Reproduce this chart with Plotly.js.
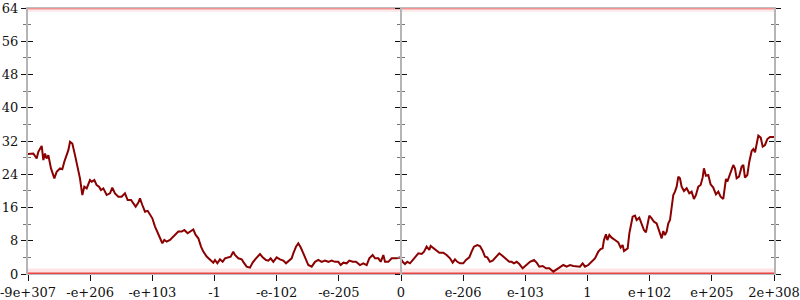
<!DOCTYPE html>
<html>
<head>
<meta charset="utf-8">
<script src="https://cdn.plot.ly/plotly-3.0.1.min.js"></script>
<style>html,body{margin:0;padding:0;background:#fff;}#chart{width:800px;height:300px;}</style>
</head>
<body>
<div id="chart"></div>
<script>
// Tick labels (positions are evenly spaced on a symmetric-log style axis)
const tickPositions = [0,1,2,3,4,5,6,7,8,9,10,11,12];
const tickLabels = ["-9e+307","-e+206","-e+103","-1","-e-102","-e-205","0","e-206","e-103","1","e+102","e+205","2e+308"];

// Main series: x in axis-index units, y values
const seriesX = [
0,0.086,0.139,0.166,0.22,0.247,0.273,0.30,0.327,0.37,0.424,0.461,0.515,0.552,0.584,0.622,0.649,0.676,0.713,0.756,
0.783,0.81,0.836,0.874,0.906,0.944,0.997,1.024,1.067,1.104,1.142,1.174,1.212,1.265,1.319,1.356,1.399,1.453,1.506,1.56,
1.603,1.657,1.694,1.732,1.775,1.801,1.839,1.882,1.925,1.962,2.0,2.043,2.086,2.123,2.161,2.193,2.231,2.284,2.338,2.375,
2.418,2.472,2.515,2.568,2.606,2.659,2.697,2.74,2.783,2.82,2.874,2.927,2.981,
3.008,3.046,3.088,3.131,3.169,3.222,3.26,3.302,3.329,3.383,3.437,3.463,3.517,3.571,3.614,3.668,3.732,3.775,3.828,3.866,
3.903,3.946,4.0,4.053,4.107,4.15,4.203,4.241,4.268,4.311,4.348,4.386,4.429,4.471,4.509,4.563,4.617,4.67,4.724,4.777,
4.831,4.885,4.938,4.992,5.03,5.072,5.126,5.169,5.223,5.276,5.34,5.394,5.448,5.49,5.544,5.582,5.636,5.673,5.716,5.743,
5.796,5.85,5.93,5.984,
6.027,6.064,6.101,6.145,6.198,6.252,6.279,6.333,6.37,6.413,6.455,6.477,6.52,6.563,6.617,6.68,6.734,6.788,6.831,6.868,
6.906,6.948,7.002,7.045,7.099,7.136,7.174,7.227,7.27,7.313,7.351,7.388,7.431,7.474,7.528,7.581,7.635,7.689,7.742,7.78,
7.817,7.861,7.903,7.957,8.011,8.075,8.139,8.182,8.225,8.279,8.333,8.386,8.45,8.504,8.558,8.611,8.665,8.719,8.772,8.826,
8.879,8.922,8.96,9.013,9.067,9.12,9.174,9.2,
9.211,9.243,9.265,9.297,9.319,9.351,9.388,9.442,9.495,9.533,9.565,9.587,9.619,9.646,9.673,9.694,9.726,9.764,9.79,9.833,
9.871,9.908,9.94,9.962,9.994,10.032,10.069,10.112,10.139,10.166,10.193,10.219,10.246,10.273,10.3,10.327,10.353,10.38,10.407,10.434,
10.461,10.487,10.514,10.552,10.595,10.637,10.675,10.712,10.745,10.782,10.82,10.852,10.873,10.905,10.943,10.98,11.023,11.066,11.104,11.141,
11.184,11.211,11.227,11.249,11.281,11.319,11.345,11.372,11.399,11.437,11.48,11.507,11.533,11.571,11.603,11.641,11.668,11.695,11.721,11.748,
11.786,11.818,11.855,11.893,11.936,12.0
];
const seriesY = [
28.9,29.0,27.8,29.4,30.8,27.4,29.0,27.8,28.6,25.4,23.0,24.6,25.4,25.2,27.0,28.9,29.8,31.8,31.4,28.6,
26.6,25.0,23.0,19.0,21.0,20.6,22.6,22.2,22.6,21.4,21.0,20.2,20.6,19.0,19.4,20.8,19.4,18.6,18.6,19.4,
17.8,17.8,17.0,16.2,17.2,18.2,16.6,15.0,15.2,14.2,13.4,11.4,9.8,8.6,7.4,8.2,7.8,8.2,9.0,9.8,
10.2,10.2,10.6,9.8,10.2,10.7,9.4,8.6,6.6,5.4,4.2,3.4,2.7,
3.37,2.57,3.53,2.93,3.77,4.0,4.17,5.37,4.57,3.77,3.53,2.93,1.76,1.52,2.73,3.77,4.81,4.0,3.37,3.21,
3.77,2.93,4.0,3.53,3.21,2.57,3.21,3.77,4.97,6.58,7.38,6.42,4.97,3.53,2.16,1.76,2.93,3.37,2.93,3.21,
2.93,3.21,2.93,2.93,2.16,2.73,2.57,3.21,2.93,2.93,2.16,2.57,2.16,3.77,4.57,3.77,3.77,2.93,4.57,2.93,
2.93,3.77,3.77,4.0,
2.93,2.4,2.93,2.57,3.53,4.33,4.97,4.81,5.37,6.58,5.78,6.74,6.18,5.78,5.13,5.13,4.57,3.77,2.73,3.53,
2.93,2.57,2.57,3.37,4.0,5.37,6.58,6.98,6.74,5.62,4.17,4.0,2.93,3.21,4.17,4.97,4.33,3.53,2.93,2.93,
2.57,2.93,2.4,1.36,2.16,2.93,3.37,2.73,1.76,1.92,1.36,1.36,0.56,1.12,1.76,2.16,1.76,2.16,1.92,1.92,
1.76,2.57,1.76,2.16,2.93,3.77,5.37,5.94,
6.0,6.17,8.17,9.54,8.17,9.38,8.74,8.17,7.61,6.34,6.98,5.53,5.78,6.17,9.78,11.38,13.79,14.03,12.99,13.55,
12.19,10.58,10.02,11.95,14.03,13.39,12.58,12.19,10.82,9.78,8.58,10.34,9.38,10.18,12.19,12.99,16.2,19.01,19.81,21.02,
23.42,23.02,21.02,19.97,20.62,19.41,19.81,18.05,19.01,21.02,21.42,23.18,25.43,23.66,23.82,21.58,20.78,19.17,19.81,18.61,
18.05,21.02,22.86,22.22,23.42,25.03,26.23,25.43,23.02,23.42,25.83,26.23,23.18,23.82,27.03,29.6,30.08,29.28,31.04,33.29,
32.81,30.64,31.04,32.48,32.97,32.97
];

// Bounds of the y range (floor / ceiling bands)
const boundX = [0, 12];
const floorY = [0, 0];
const ceilY = [64, 64];

const yMajor = 8;
const yMinor = 4;
const yRange = [0, 64];

const tickFont = {family: "DejaVu Serif, Liberation Serif, serif", size: 13, color: "#111"};

const traces = [
  {x: boundX, y: floorY, mode: "lines", line: {color: "rgba(240,90,90,0.16)", width: 11}, hoverinfo: "skip", showlegend: false},
  {x: boundX, y: ceilY, mode: "lines", line: {color: "rgba(240,90,90,0.12)", width: 8}, hoverinfo: "skip", showlegend: false},
  {x: boundX, y: floorY, mode: "lines", line: {color: "rgba(230,40,40,0.85)", width: 3}, hoverinfo: "skip", showlegend: false},
  {x: boundX, y: ceilY, mode: "lines", line: {color: "rgba(230,60,60,0.5)", width: 3}, hoverinfo: "skip", showlegend: false},
  {x: seriesX, y: seriesY, mode: "lines", line: {color: "#8b0000", width: 2}, showlegend: false}
];
// invisible anchor traces so each overlay axis gets drawn
["y2","y3","y4","y5","y6"].forEach(function(ax){
  traces.push({x: boundX, y: floorY, yaxis: ax, mode: "lines", line: {color: "rgba(0,0,0,0)", width: 0}, hoverinfo: "skip", showlegend: false});
});

function yAxisBase() {
  return {
    range: yRange, autorange: false, fixedrange: true,
    tickmode: "linear", tick0: 0, dtick: yMajor,
    showgrid: false, zeroline: false,
    tickcolor: "#111", tickwidth: 1, ticklen: 5,
    minor: {ticks: "", dtick: yMinor, ticklen: 3, tickcolor: "#777", tickwidth: 1, showgrid: false}
  };
}

const yL = Object.assign(yAxisBase(), {
  side: "left", ticks: "outside", showticklabels: true, tickfont: tickFont,
  showline: true, linecolor: "#b5b5b5", linewidth: 2
});
yL.minor.ticks = "outside";
const yLi = Object.assign(yAxisBase(), {overlaying: "y", side: "left", ticks: "inside", showticklabels: false, showline: false});
yLi.minor.ticks = "inside";
const yR = Object.assign(yAxisBase(), {overlaying: "y", side: "right", ticks: "outside", showticklabels: false, showline: true, linecolor: "#b5b5b5", linewidth: 2});
yR.minor.ticks = "outside";
const yRi = Object.assign(yAxisBase(), {overlaying: "y", side: "right", ticks: "inside", showticklabels: false, showline: false});
yRi.minor.ticks = "inside";
const yC = Object.assign(yAxisBase(), {overlaying: "y", anchor: "free", position: 0.5, side: "left", ticks: "outside", showticklabels: false, showline: true, linecolor: "#b5b5b5", linewidth: 2});
yC.minor.ticks = "outside";
const yCi = Object.assign(yAxisBase(), {overlaying: "y", anchor: "free", position: 0.5, side: "left", ticks: "inside", showticklabels: false, showline: false});
yCi.minor.ticks = "inside";

const layout = {
  width: 800, height: 300,
  margin: {l: 28, r: 26, t: 8, b: 26, pad: 0},
  paper_bgcolor: "#fff", plot_bgcolor: "#fff",
  showlegend: false,
  xaxis: {
    range: [0, 12], autorange: false, fixedrange: true,
    tickmode: "array", tickvals: tickPositions, ticktext: tickLabels,
    ticks: "outside", ticklen: 6, tickcolor: "#111", tickwidth: 1,
    tickfont: tickFont, ticklabeloverflow: "allow",
    showgrid: false, zeroline: false,
    showline: true, mirror: true, linecolor: "#bdbdbd", linewidth: 1
  },
  yaxis: yL, yaxis2: yLi, yaxis3: yR, yaxis4: yRi, yaxis5: yC, yaxis6: yCi
};

Plotly.newPlot("chart", traces, layout, {staticPlot: true, displayModeBar: false});
</script>
</body>
</html>
